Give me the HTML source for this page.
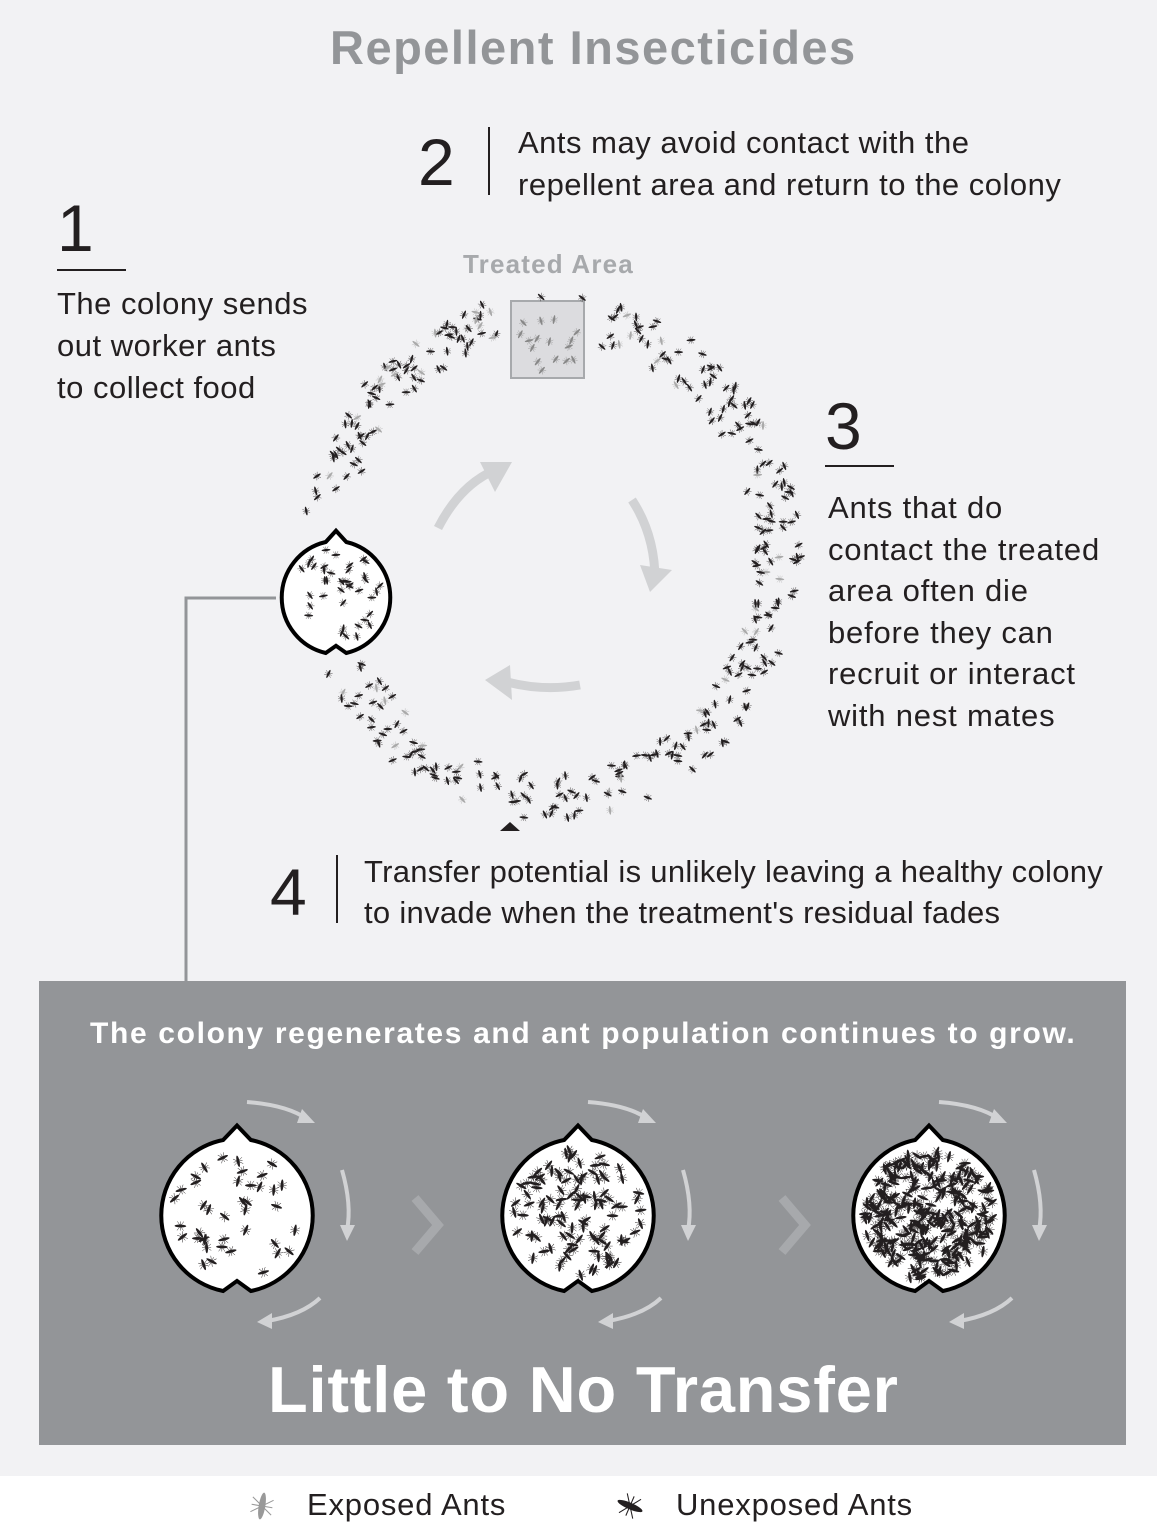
<!DOCTYPE html>
<html><head><meta charset="utf-8">
<style>
body{margin:0;width:1157px;height:1535px;background:#f2f2f4;position:relative;overflow:hidden;font-family:"Liberation Sans",Arial,sans-serif;}
.t{position:absolute;white-space:nowrap;color:#231f20;letter-spacing:0.5px;}
</style></head><body>
<svg id="s" width="1157" height="1535" style="position:absolute;left:0;top:0">
<rect x="0" y="1476" width="1157" height="59" fill="#fff"/>
<rect x="39" y="981" width="1087" height="464" fill="#939598"/>
<polyline points="276,598 186,598 186,981" fill="none" stroke="#939598" stroke-width="3"/>
<line x1="57" y1="270" x2="126" y2="270" stroke="#231f20" stroke-width="2"/>
<line x1="825" y1="466" x2="894" y2="466" stroke="#231f20" stroke-width="2"/>
<line x1="489" y1="127" x2="489" y2="195" stroke="#231f20" stroke-width="2"/>
<line x1="337" y1="855" x2="337" y2="923" stroke="#231f20" stroke-width="2"/>
<polygon points="500,831 520,831 510,822" fill="#231f20"/>
<rect x="511" y="301" width="73" height="77" fill="#dcdcdf" stroke="#a7a9ac" stroke-width="2"/>
<g fill="none" stroke="#d1d2d4" stroke-width="9">
<path d="M438,528 Q460,485 495,470"/><path d="M632,500 Q655,535 655,580"/><path d="M580,685 Q540,692 500,680"/>
</g>
<g fill="#d1d2d4"><polygon points="480,462 512,462 495,492"/><polygon points="640,565 672,570 650,592"/><polygon points="510,665 485,680 512,700"/></g>
<g id="ants"></g>
<g fill="none" stroke="#a7a9ac" stroke-width="9"><polyline points="415,1198 438,1225 415,1252"/><polyline points="782,1198 805,1225 782,1252"/></g>
</svg>
<div class="t" style="left:330px;top:20px;font-size:47px;font-weight:bold;color:#939598;letter-spacing:1.5px">Repellent Insecticides</div>
<div class="t" style="left:418px;top:124px;font-size:66px;">2</div>
<div class="t" style="left:518px;top:122px;font-size:31px;line-height:42px">Ants may avoid contact with the<br>repellent area and return to the colony</div>
<div class="t" style="left:57px;top:190px;font-size:66px;">1</div>
<div class="t" style="left:57px;top:283px;font-size:31px;line-height:42px">The colony sends<br>out worker ants<br>to collect food</div>
<div class="t" style="left:463px;top:249px;font-size:26px;font-weight:bold;color:#a7a9ac;letter-spacing:1.2px">Treated Area</div>
<div class="t" style="left:825px;top:388px;font-size:66px;">3</div>
<div class="t" style="left:828px;top:487px;font-size:31px;line-height:41.5px;letter-spacing:0.8px">Ants that do<br>contact the treated<br>area often die<br>before they can<br>recruit or interact<br>with nest mates</div>
<div class="t" style="left:270px;top:854px;font-size:66px;">4</div>
<div class="t" style="left:364px;top:851px;font-size:31px;line-height:41px;letter-spacing:0.3px">Transfer potential is unlikely leaving a healthy colony<br>to invade when the treatment's residual fades</div>
<div class="t" style="left:90px;top:1017px;font-size:30px;font-weight:bold;color:#fff;letter-spacing:1.65px">The colony regenerates and ant population continues to grow.</div>
<div class="t" style="left:268px;top:1352px;font-size:65px;font-weight:bold;color:#fff;letter-spacing:0.8px">Little to No Transfer</div>
<div class="t" style="left:307px;top:1487px;font-size:31px;letter-spacing:0.8px">Exposed Ants</div>
<div class="t" style="left:676px;top:1487px;font-size:31px;letter-spacing:0.8px">Unexposed Ants</div>
<script>
var NS="http://www.w3.org/2000/svg",g=document.getElementById('ants');
var seed=7;function r(){seed=(seed*16807)%2147483647;return seed/2147483647;}
function el(n,a,p){var e=document.createElementNS(NS,n);for(var k in a)e.setAttribute(k,a[k]);(p||g).appendChild(e);return e;}
function ant(x,y,c,s){var a=r()*360;var gg=el('g',{transform:'translate('+x+','+y+') rotate('+a+') scale('+s+')'});
el('ellipse',{cx:0,cy:0,rx:4.5,ry:1.1,fill:c},gg);
el('path',{d:'M-2.5,-3.5 L2.5,3.5 M-2.5,3.5 L2.5,-3.5 M0,-3.5 L0,3.5',stroke:c,'stroke-width':0.35},gg);}
for(var i=0;i<420;i++){var t=r()*Math.PI*2;var d=(r()-0.5)*46;var x=550+(228+d)*Math.cos(t),y=557+(240+d)*Math.sin(t);
 if(Math.abs(x-336)<65&&Math.abs(y-597)<65)continue;if(x>508&&x<588&&y>298&&y<382)continue;ant(x,y,r()<0.1?'#aaa':'#231f20',1);}
for(i=0;i<16;i++)ant(518+r()*60,308+r()*65,'#888',1);
function col(cx,cy,R,n,s){var k=R*0.18;
 el('path',{d:'M'+(cx-k)+','+(cy-R+2)+' L'+cx+','+(cy-R-k*0.9)+' L'+(cx+k)+','+(cy-R+2)+' A'+R+','+R+' 0 0 1 '+(cx+k)+','+(cy+R-1)+' L'+cx+','+(cy+R-k*0.8)+' L'+(cx-k)+','+(cy+R-1)+' A'+R+','+R+' 0 0 1 '+(cx-k)+','+(cy-R+2)+'Z',fill:'#fff',stroke:'#000','stroke-width':4});
 for(var j=0;j<n;j++){var a=r()*6.283,rr=Math.sqrt(r())*R*0.85;ant(cx+rr*Math.cos(a),cy+rr*Math.sin(a),'#231f20',s);}}
col(336,597,57,40,1);col(237,1215,77,40,1.3);col(578,1215,77,110,1.3);col(929,1215,77,300,1.3);
[237,578,929].forEach(function(cx){var cy=1215;
 el('path',{d:'M'+(cx+10)+','+(cy-113)+' Q'+(cx+50)+','+(cy-110)+' '+(cx+70)+','+(cy-96),stroke:'#d1d2d4','stroke-width':4,fill:'none'});
 el('path',{d:'M'+(cx+105)+','+(cy-45)+' Q'+(cx+115)+','+(cy-10)+' '+(cx+110)+','+(cy+15),stroke:'#d1d2d4','stroke-width':4,fill:'none'});
 el('path',{d:'M'+(cx+83)+','+(cy+83)+' Q'+(cx+65)+','+(cy+100)+' '+(cx+30)+','+(cy+106),stroke:'#d1d2d4','stroke-width':4,fill:'none'});
 el('polygon',{points:(cx+65)+','+(cy-106)+' '+(cx+78)+','+(cy-92)+' '+(cx+60)+','+(cy-92),fill:'#d1d2d4'});
 el('polygon',{points:(cx+103)+','+(cy+10)+' '+(cx+118)+','+(cy+10)+' '+(cx+110)+','+(cy+26),fill:'#d1d2d4'});
 el('polygon',{points:(cx+35)+','+(cy+98)+' '+(cx+35)+','+(cy+114)+' '+(cx+20)+','+(cy+107),fill:'#d1d2d4'});
});
ant(262,1506,'#999',3);ant(630,1506,'#231f20',3);
</script>
</body></html>
